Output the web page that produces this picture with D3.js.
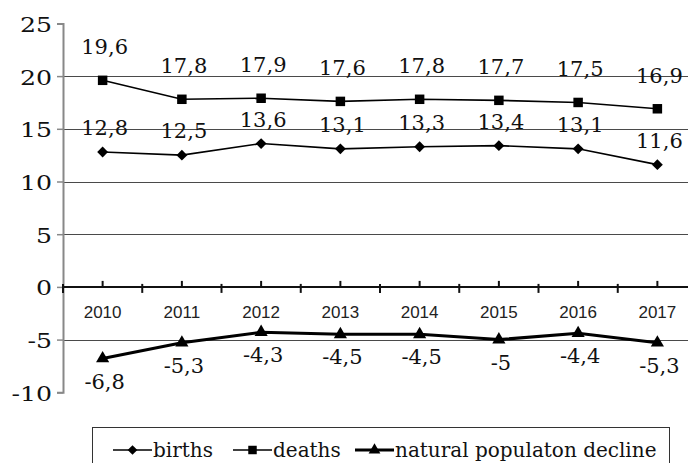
<!DOCTYPE html>
<html lang="en">
	<head>
		<meta charset="utf-8">
		<title>Births, deaths and natural population decline</title>
		<script type="text/javascript" src="https://cdn.jsdelivr.net/npm/d3@7"></script>
		<style type="text/css">
			body { margin: 0; background: white; }
			svg { display: block; }
		</style>
	</head>
	<body>
		<script type="text/javascript">

			//Data
			let years = ["2010", "2011", "2012", "2013", "2014", "2015", "2016", "2017"];
			let births = [12.8, 12.5, 13.6, 13.1, 13.3, 13.4, 13.1, 11.6];
			let deaths = [19.6, 17.8, 17.9, 17.6, 17.8, 17.7, 17.5, 16.9];
			let decline = [-6.8, -5.3, -4.3, -4.5, -4.5, -5, -4.4, -5.3];
			let yTicks = [25, 20, 15, 10, 5, 0, -5, -10];
			let legendNames = ["births", "deaths", "natural populaton decline"];

			let w = 688;
			let h = 463;
			let serif = "DejaVu Serif";
			let sans = "Liberation Sans";

			let svg = d3.select("body")
						.append("svg")
						  .attr("width", w)
						  .attr("height", h);

			let x = d3.scaleBand()
						.domain(years)
						.range([63, 697]);
			let cx = d => x(d) + x.bandwidth() / 2;

			let y = d3.scaleLinear()
						.domain([-10, 25])
						.range([392.3, 23.4]);

			let fmt = v => String(v).replace(".", ",");

			//Gridlines
			svg.selectAll("line.grid")
				.data([20, 15, 10, 5, -5])
				.enter()
			  .append("line")
				.attr("class", "grid")
				.attr("x1", 63).attr("x2", w)
				.attr("y1", d => Math.round(y(d)) + 0.5)
				.attr("y2", d => Math.round(y(d)) + 0.5)
				.attr("stroke", "#4a4a4a")
				.attr("stroke-width", 1);

			//Y axis
			let yAxis = d3.axisLeft(y)
						.tickValues(yTicks)
						.tickSize(6)
						.tickFormat(d => d);
			let gy = svg.append("g")
						.attr("transform", "translate(63,0)")
						.call(yAxis);
			gy.attr("font-family", serif);
			gy.select(".domain").attr("stroke", "#888").attr("stroke-width", 2);
			gy.selectAll(".tick line").attr("stroke", "#888").attr("stroke-width", 1.5);
			gy.selectAll(".tick text")
				.attr("font-family", serif)
				.attr("font-size", 21)
				.attr("fill", "#111")
				.attr("x", null)
				.attr("dy", null)
				.attr("text-anchor", "end")
				.attr("transform", "translate(-11,8) scale(1.2,1)");

			//X axis on zero line
			let y0 = y(0);
			svg.append("line")
				.attr("x1", 63).attr("x2", w)
				.attr("y1", y0).attr("y2", y0)
				.attr("stroke", "#111")
				.attr("stroke-width", 2);
			svg.selectAll("line.tb")
				.data(years)
				.enter()
			  .append("line")
				.attr("class", "tb")
				.attr("x1", d => x(d)).attr("x2", d => x(d))
				.attr("y1", y0 - 3).attr("y2", y0 + 6)
				.attr("stroke", "#111")
				.attr("stroke-width", 2);
			svg.selectAll("line.tc")
				.data(years)
				.enter()
			  .append("line")
				.attr("class", "tc")
				.attr("x1", cx).attr("x2", cx)
				.attr("y1", y0 - 6).attr("y2", y0)
				.attr("stroke", "#111")
				.attr("stroke-width", 2);
			svg.selectAll("text.year")
				.data(years)
				.enter()
			  .append("text")
				.attr("class", "year")
				.attr("font-family", sans)
				.attr("font-size", 17)
				.attr("fill", "#222")
				.attr("x", cx)
				.attr("y", 318)
				.attr("text-anchor", "middle")
				.text(d => d);

			//Series
			let series = [
				{ name: legendNames[0], values: births, width: 1.6, marker: d3.symbolDiamond2, size: 75, dy: -17 },
				{ name: legendNames[1], values: deaths, width: 1.6, marker: d3.symbolSquare, size: 90, dy: -26 },
				{ name: legendNames[2], values: decline, width: 3, marker: d3.symbolTriangle, size: 75, dy: 30 }
			];

			let line = d3.line()
						.x((d, i) => cx(years[i]))
						.y(d => y(d));

			series.forEach(s => {
				let g = svg.append("g");
				g.append("path")
					.attr("d", line(s.values))
					.attr("fill", "none")
					.attr("stroke", "#000")
					.attr("stroke-width", s.width);
				g.selectAll("path.m")
					.data(s.values)
					.enter()
				  .append("path")
					.attr("class", "m")
					.attr("d", d3.symbol().type(s.marker).size(s.size))
					.attr("transform", (d, i) => `translate(${cx(years[i])},${y(d)})`)
					.attr("fill", "#000");
				g.selectAll("text")
					.data(s.values)
					.enter()
				  .append("text")
					.attr("font-family", serif)
					.attr("font-size", 21)
					.attr("fill", "#111")
					.attr("text-anchor", "middle")
					.attr("x", (d, i) => cx(years[i]) + 2)
					.attr("y", d => y(d) + s.dy)
					.text(fmt);
			});

			//Legend
			svg.append("rect")
				.attr("x", 92.5).attr("y", 427.5)
				.attr("width", 577).attr("height", 60)
				.attr("fill", "none")
				.attr("stroke", "#333")
				.attr("stroke-width", 1);

			let legendX = [113, 233, 355];
			let lg = svg.selectAll("g.legend")
						.data(series)
						.enter()
					  .append("g")
						.attr("class", "legend")
						.attr("transform", (d, i) => `translate(${legendX[i]},450)`);
			lg.append("line")
				.attr("x1", 0).attr("x2", 39)
				.attr("stroke", "#000")
				.attr("stroke-width", d => d.width);
			lg.append("path")
				.attr("d", d => d3.symbol().type(d.marker).size(d.size * 0.8)())
				.attr("transform", "translate(19.5,0)")
				.attr("fill", "#000");
			lg.append("text")
				.attr("font-family", serif)
				.attr("font-size", 20)
				.attr("fill", "#111")
				.attr("x", 40)
				.attr("y", 7)
				.text(d => d.name);

		</script>
	</body>
</html>
